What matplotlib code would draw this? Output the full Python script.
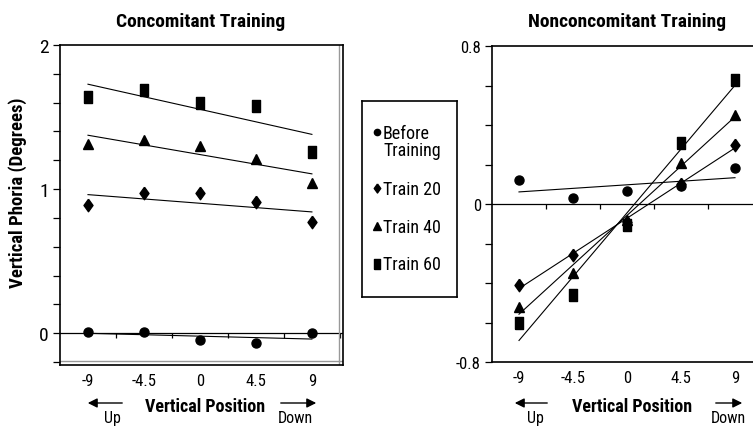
import numpy as np
import matplotlib
matplotlib.use("Agg")
import matplotlib.pyplot as plt
from matplotlib.patches import FancyArrowPatch

plt.rcParams['font.family'] = ['Roboto Condensed', 'Liberation Sans', 'DejaVu Sans']

# datos
posiciones = [-9, -4.5, 0, 4.5, 9]
etiquetas_x = ['-9', '-4.5', '0', '4.5', '9']
series = ['Before\nTraining', 'Train 20', 'Train 40', 'Train 60']

conc_antes = [0.01, 0.01, -0.05, -0.07, 0.00]
conc_t20 = [0.89, 0.97, 0.97, 0.91, 0.77]
conc_t40 = [1.31, 1.34, 1.30, 1.21, 1.04]
conc_t60 = [1.64, 1.69, 1.60, 1.58, 1.26]

nonc_antes = [0.12, 0.03, 0.066, 0.09, 0.18]
nonc_t20 = [-0.41, -0.26, -0.09, 0.10, 0.30]
nonc_t40 = [-0.52, -0.35, -0.08, 0.21, 0.45]
nonc_t60 = [-0.60, -0.46, -0.105, 0.31, 0.63]

# rombo y rectangulo algo mas anchos / altos que los de matplotlib
rombo = [(0, 1), (0.72, 0), (0, -1), (-0.72, 0), (0, 1)]
rect = [(-0.72, -1), (0.72, -1), (0.72, 1), (-0.72, 1), (-0.72, -1)]
marcadores = ['o', rombo, '^', rect]
tam_marcador = [6.5, 9, 7.5, 8.5]

W, H = 753, 427
fig = plt.figure(figsize=(W / 100, H / 100), dpi=100)


def caja(x0, y0, x1, y1):
    # pixeles (arriba-izquierda) a fraccion de figura
    return [x0 / W, 1 - y1 / H, (x1 - x0) / W, (y1 - y0) / H]


def dibujar_series(ax, datos):
    x = np.array(posiciones)
    for vals, m, ms in zip(datos, marcadores, tam_marcador):
        ax.plot(x, vals, linestyle='none', marker=m, markersize=ms, color='black', clip_on=False)
        a, b = np.polyfit(x, vals, 1)
        ax.plot(x, a * x + b, color='black', linewidth=0.8)


def eje_x(ax, px_unidad, marcas):
    ax.set_xticks(posiciones)
    ax.set_xticklabels(etiquetas_x)
    ax.tick_params(axis='x', length=0, pad=6, labelsize=12)
    ax.axhline(0, color='black', linewidth=0.9)
    largo = 5 / px_unidad
    ax.vlines(marcas, -largo, 0, color='black', linewidth=0.9, clip_on=False)


# --- Concomitant ---
ax1 = fig.add_axes(caja(60, 46, 343, 366))
dibujar_series(ax1, [conc_antes, conc_t20, conc_t40, conc_t60])
ax1.set_xlim(-11.25, 11.5)
ax1.set_ylim(-0.22, 2.0)
ticks1 = np.round(np.arange(-0.2, 2.01, 0.2), 1)
ax1.set_yticks(ticks1)
ax1.set_yticklabels(['' if abs(v - round(v)) > 1e-6 else str(int(round(v))) for v in ticks1])
ax1.tick_params(axis='y', direction='out', length=5, width=0.9, pad=3, labelsize=14)
mitades = np.array(posiciones[1:]) - 2.25
eje_x(ax1, 143.5, np.append(mitades, 11.25))
for s in ax1.spines.values():
    s.set_linewidth(1.2)
# lineas grises interiores del marco
ax1.plot([0.986, 0.986], [0, 1], transform=ax1.transAxes, color='#999999', linewidth=1)
ax1.plot([0, 1], [0.012, 0.012], transform=ax1.transAxes, color='#999999', linewidth=1)

# --- Nonconcomitant ---
ax2 = fig.add_axes(caja(492, 47, 753, 363))
dibujar_series(ax2, [nonc_antes, nonc_t20, nonc_t40, nonc_t60])
ax2.set_xlim(-11.25, 10.5)
ax2.set_ylim(-0.8, 0.8)
ticks2 = np.round(np.arange(-0.8, 0.81, 0.2), 1)
ax2.set_yticks(ticks2)
ax2.set_yticklabels([{-0.8: '-0.8', 0.0: '0', 0.8: '0.8'}.get(float(v), '') for v in ticks2])
ax2.tick_params(axis='y', direction='out', length=5, width=0.9, pad=3, labelsize=12)
eje_x(ax2, 198, mitades)
ax2.spines['right'].set_visible(False)
for s in ['left', 'top', 'bottom']:
    ax2.spines[s].set_linewidth(1.2)

# titulos y etiquetas
fig.text(201 / W, 1 - 22 / H, 'Concomitant Training', ha='center', va='center',
         fontsize=14, fontweight='bold')
fig.text(627 / W, 1 - 22 / H, 'Nonconcomitant Training', ha='center', va='center',
         fontsize=14, fontweight='bold')
fig.text(18 / W, 1 - 193 / H, 'Vertical Phoria (Degrees)', rotation=90, ha='center',
         va='center', fontsize=13.5, fontweight='bold')

for cx, izq, der, up_x, down_x in [(205, (125, 85), (278, 319), 112, 295),
                                   (632, (550, 512), (713, 745), 535, 728)]:
    fig.text(cx / W, 1 - 407 / H, 'Vertical Position', ha='center', va='center',
             fontsize=13, fontweight='bold')
    for (xa, xb) in [izq, der]:
        fig.add_artist(FancyArrowPatch(
            (xa / W, 1 - 404 / H), (xb / W, 1 - 404 / H), transform=fig.transFigure,
            arrowstyle='-|>', mutation_scale=14, color='black', linewidth=1))
    fig.text(up_x / W, 1 - 419 / H, 'Up', ha='center', va='center', fontsize=11.5)
    fig.text(down_x / W, 1 - 419 / H, 'Down', ha='center', va='center', fontsize=11.5)

# leyenda hecha a mano (marcador alineado con la primera linea del texto)
axl = fig.add_axes(caja(362, 102, 457, 298))
axl.set_xlim(0, 95)
axl.set_ylim(196, 0)
axl.set_xticks([])
axl.set_yticks([])
for s in axl.spines.values():
    s.set_linewidth(1.2)
filas_y = [31, 87, 125, 163]
for etiqueta, m, ms, y in zip(series, marcadores, [4.5, 6.5, 5.5, 7], filas_y):
    axl.plot([15], [y], linestyle='none', marker=m, markersize=ms, color='black')
    axl.text(21, y - 8.5, etiqueta, ha='left', va='top', fontsize=13, linespacing=0.95)

plt.savefig('out.png', dpi=100)
